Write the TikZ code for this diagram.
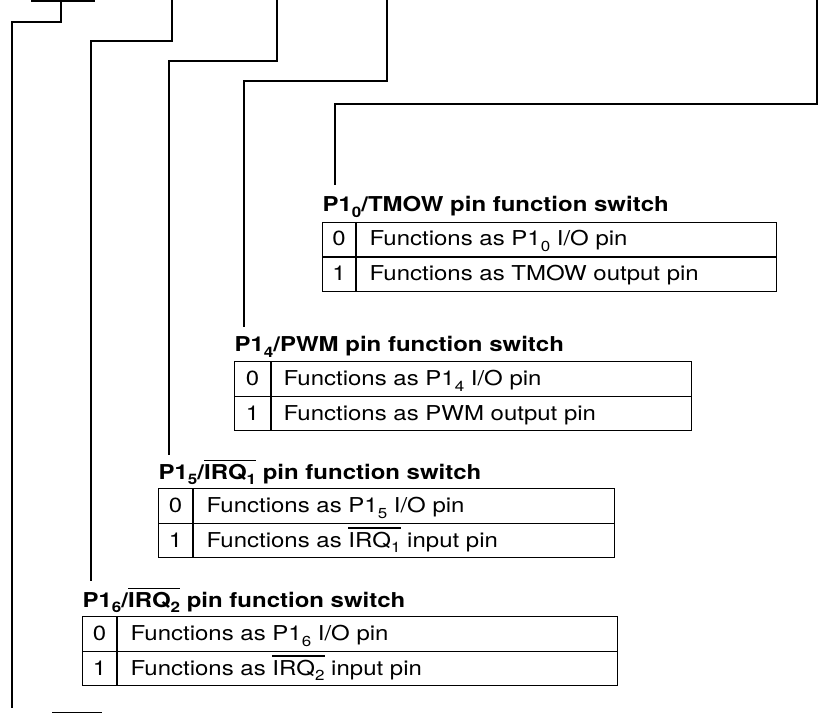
\documentclass[tikz,border=0pt]{standalone}
\usepackage{fontspec}
\setmainfont{TeX Gyre Heros}[FakeStretch=1.17]
\newcommand\sbs[1]{\raisebox{-5.5pt}{\fontsize{14.5}{15}\selectfont #1}}
\newcommand\ovl[1]{\vbox{\hrule height 1.2pt\kern 3pt\hbox{#1}}}
\begin{document}
\begin{tikzpicture}[x=1pt,y=-1pt,line width=1.3pt,
  every node/.style={inner sep=0pt,font=\fontsize{20.5}{24}\selectfont},
  tbox/.style={draw,line width=1.4pt,anchor=north west,minimum height=69pt},
  ttl/.style={anchor=base west,font=\fontsize{20.5}{24}\selectfont\bfseries},
  dig/.style={anchor=base},
  txt/.style={anchor=base west},
  wire/.style={line width=1.3pt}]
\useasboundingbox (0,0) rectangle (820,714);

% ---- table 1: P1_0/TMOW
\node[tbox,minimum width=454pt] (t1) at (322,222) {};
\node[ttl] (t1h) at (322,212) {P1\sbs{0}/TMOW pin function switch};
\draw[line width=1.4pt] (t1.west) -- (t1.east);
\draw[line width=1.4pt] ([xshift=34pt]t1.north west) -- ([xshift=34pt]t1.south west);
\node[dig] (t1a) at (339,246) {0};
\node[txt] (t1b) at (369,246) {Functions as P1\sbs{0} I/O pin};
\node[dig] (t1c) at (339,280.5) {1};
\node[txt] (t1d) at (369,280.5) {Functions as TMOW output pin};

% ---- table 2: P1_4/PWM
\node[tbox,minimum width=457pt] (t2) at (234,361) {};
\node[ttl] (t2h) at (234,352) {P1\sbs{4}/PWM pin function switch};
\draw[line width=1.4pt] (t2.west) -- (t2.east);
\draw[line width=1.4pt] ([xshift=37pt]t2.north west) -- ([xshift=37pt]t2.south west);
\node[dig] (t2a) at (252.5,385.5) {0};
\node[txt] (t2b) at (283,385.5) {Functions as P1\sbs{4} I/O pin};
\node[dig] (t2c) at (252.5,420) {1};
\node[txt] (t2d) at (283,420) {Functions as PWM output pin};

% ---- table 3: P1_5/IRQ1
\node[tbox,minimum width=456pt] (t3) at (158,488) {};
\node[ttl] (t3h) at (158,479) {P1\sbs{5}/\ovl{IRQ\sbs{1}} pin function switch};
\draw[line width=1.4pt] (t3.west) -- (t3.east);
\draw[line width=1.4pt] ([xshift=35pt]t3.north west) -- ([xshift=35pt]t3.south west);
\node[dig] (t3a) at (175.5,512.5) {0};
\node[txt] (t3b) at (206,512.5) {Functions as P1\sbs{5} I/O pin};
\node[dig] (t3c) at (175.5,547) {1};
\node[txt] (t3d) at (206,547) {Functions as \ovl{IRQ\sbs{1}} input pin};

% ---- table 4: P1_6/IRQ2
\node[tbox,minimum width=535pt] (t4) at (82,616) {};
\node[ttl] (t4h) at (82,607) {P1\sbs{6}/\ovl{IRQ\sbs{2}} pin function switch};
\draw[line width=1.4pt] (t4.west) -- (t4.east);
\draw[line width=1.4pt] ([xshift=35pt]t4.north west) -- ([xshift=35pt]t4.south west);
\node[dig] (t4a) at (99.5,640.5) {0};
\node[txt] (t4b) at (130,640.5) {Functions as P1\sbs{6} I/O pin};
\node[dig] (t4c) at (99.5,675) {1};
\node[txt] (t4d) at (130,675) {Functions as \ovl{IRQ\sbs{2}} input pin};

% ---- connectors
\coordinate (s0) at (31,1);
\coordinate (s1) at (95,1);
\draw[wire] (s0) -- (s1);
\coordinate (a0) at (61,1);
\coordinate (a1) at (12,708);
\draw[wire] (a0) -- ++(0,21) -| (a1);
\coordinate (b0) at (172,0);
\coordinate (b1) at (91,581);
\draw[wire] (b0) -- ++(0,41) -| (b1);
\coordinate (c0) at (277,0);
\coordinate (c1) at (169,455);
\draw[wire] (c0) -- ++(0,61) -| (c1);
\coordinate (d0) at (387,0);
\coordinate (d1) at (244,327);
\draw[wire] (d0) -- ++(0,81) -| (d1);
\coordinate (e0) at (817,0);
\coordinate (e1) at (335,185);
\draw[wire] (e0) -- ++(0,104) -| (e1);
\coordinate (f0) at (52,712.5);
\coordinate (f1) at (102,712.5);
\draw[wire] (f0) -- (f1);
\end{tikzpicture}
\end{document}
